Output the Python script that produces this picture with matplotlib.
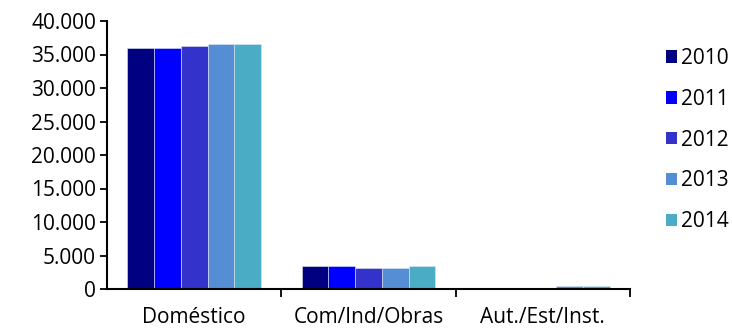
import matplotlib
matplotlib.use("Agg")
import matplotlib.pyplot as plt
import numpy as np
from matplotlib.ticker import FuncFormatter
from matplotlib.patches import Patch

categories = ["Doméstico", "Com/Ind/Obras", "Aut./Est/Inst."]
years = ["2010", "2011", "2012", "2013", "2014"]
v2010 = [36000, 3500, 80]
v2011 = [36000, 3500, 80]
v2012 = [36300, 3200, 120]
v2013 = [36600, 3200, 450]
v2014 = [36600, 3500, 450]
series = [v2010, v2011, v2012, v2013, v2014]
colors = ["#000080", "#0000FF", "#3333CC", "#558ED5", "#4BACC6"]

plt.rcParams['font.family'] = ['Open Sans', 'DejaVu Sans']

fig = plt.figure(figsize=(7.32, 3.31), dpi=100)
ax = fig.add_axes([107/732, 1 - 289/331, (630-107)/732, (289-21)/331])

x = np.arange(len(categories))
n = len(series)
bw = 0.765 / n
for i, (vals, c) in enumerate(zip(series, colors)):
    ax.bar(x + (i - (n-1)/2) * bw, vals, bw, color=c, edgecolor="#dde6f5", linewidth=0.4)

ax.set_xlim(-0.5, len(categories) - 0.5)
ax.set_ylim(0, 40000)
ax.set_yticks(np.arange(0, 40001, 5000))
ax.yaxis.set_major_formatter(FuncFormatter(lambda v, p: f"{int(v):,}".replace(",", ".")))
ax.set_xticks(x)
ax.set_xticklabels(categories)
ax.set_xticks(np.arange(0.5, len(categories) - 0.4, 1), minor=True)
ax.tick_params(axis='x', which='major', length=0, labelsize=15, pad=13)
ax.tick_params(axis='x', which='minor', length=6, width=1.3, direction='out')
ax.tick_params(axis='y', length=5, width=1.3, direction='out', labelsize=15, pad=3)
for s in ["top", "right"]:
    ax.spines[s].set_visible(False)
for s in ["left", "bottom"]:
    ax.spines[s].set_linewidth(1.5)

handles = [Patch(facecolor=c, edgecolor='none') for c in colors]
fig.legend(handles, years, loc="upper left", bbox_to_anchor=(666/732, 1 - 48/331),
           frameon=False, fontsize=15, handlelength=0.55, handleheight=0.55,
           handletextpad=0.15, labelspacing=0.95, borderpad=0, borderaxespad=0)

fig.savefig("out.png", dpi=100)
